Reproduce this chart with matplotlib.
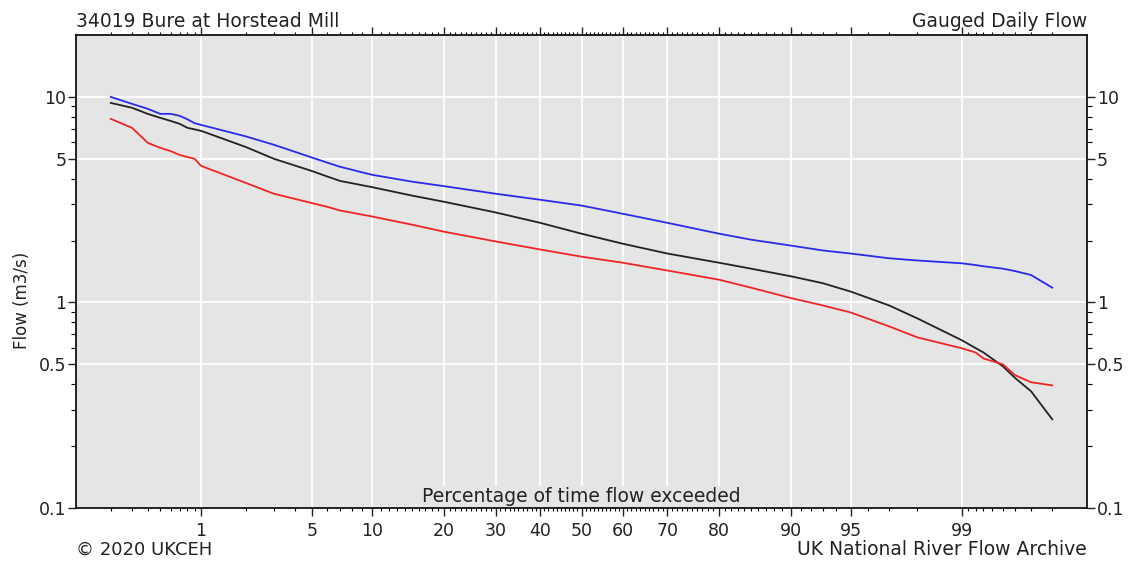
import numpy as np
import matplotlib
matplotlib.use('Agg')
from matplotlib import pyplot as plt
from statistics import NormalDist

# percentage of time flow exceeded
pct = [0.2, 0.3, 0.4, 0.5, 0.6, 0.7, 0.8, 0.9, 1, 2, 3, 5, 6, 7, 10, 15, 20, 30, 40, 50,
       60, 70, 80, 85, 90, 93, 95, 97, 98, 99, 99.2, 99.3, 99.5, 99.6, 99.7, 99.8]

# flows (m3/s)
flow_blue = [10.0, 9.25, 8.75, 8.27, 8.27, 8.09, 7.78, 7.45, 7.31, 6.43, 5.85, 5.06, 4.79, 4.57,
             4.18, 3.87, 3.68, 3.38, 3.16, 2.96, 2.70, 2.44, 2.16, 2.02, 1.89, 1.79, 1.73, 1.64,
             1.60, 1.55, 1.52, 1.50, 1.46, 1.42, 1.36, 1.18]
flow_black = [9.35, 8.85, 8.27, 7.91, 7.64, 7.40, 7.07, 6.95, 6.84, 5.71, 5.0, 4.35, 4.10, 3.90,
              3.64, 3.31, 3.09, 2.74, 2.44, 2.16, 1.93, 1.73, 1.56, 1.46, 1.34, 1.24, 1.13, 0.967,
              0.836, 0.654, 0.60, 0.571, 0.489, 0.428, 0.370, 0.270]
flow_red = [7.82, 7.07, 5.98, 5.65, 5.45, 5.22, 5.10, 5.00, 4.62, 3.82, 3.38, 3.04, 2.92, 2.80,
            2.62, 2.39, 2.21, 1.98, 1.81, 1.67, 1.56, 1.43, 1.29, 1.18, 1.05, 0.967, 0.894, 0.765,
            0.676, 0.598, 0.571, 0.534, 0.50, 0.442, 0.409, 0.395]

xmajor = [1, 5, 10, 20, 30, 40, 50, 60, 70, 80, 90, 95, 99]
xminor = ([0.2, 0.3, 0.4, 0.5, 0.6, 0.7, 0.8, 0.9, 2, 3, 4, 6, 7, 8, 9]
          + [v for v in range(11, 90) if v % 10 != 0]
          + [91, 92, 93, 94, 96, 97, 98]
          + [99.1, 99.2, 99.3, 99.4, 99.5, 99.6, 99.7, 99.8])
ymajor = [0.1, 0.5, 1, 5, 10]
ylabels = ['0.1', '0.5', '1', '5', '10']
yminor = [0.2, 0.3, 0.4, 0.6, 0.7, 0.8, 0.9, 2, 3, 4, 6, 7, 8, 9]

nd = NormalDist()

def fwd(p):
    p = np.clip(np.asarray(p, dtype=float), 1e-4, 100 - 1e-4)
    return np.vectorize(lambda v: nd.inv_cdf(v / 100.0), otypes=[float])(p)

def inv(z):
    z = np.asarray(z, dtype=float)
    return np.vectorize(lambda v: nd.cdf(v) * 100.0, otypes=[float])(z)

bg = '#e5e5e5'
fig = plt.figure(figsize=(11.35, 5.63), dpi=100)
ax = fig.add_axes([0.067, 0.0977, 0.8907, 0.8401])
ax.set_facecolor(bg)
ax.set_xscale('function', functions=(fwd, inv))
ax.set_yscale('log')
ax.set_xlim(0.1, 99.9)
ax.set_ylim(0.1, 20)

ax.plot(pct, flow_blue, color='#2a2ae8', lw=1.3)
ax.plot(pct, flow_black, color='#222222', lw=1.3)
ax.plot(pct, flow_red, color='#f02424', lw=1.3)

ax.set_xticks(xmajor)
ax.set_xticklabels([str(v) for v in xmajor])
ax.set_xticks(xminor, minor=True)
ax.set_yticks(ymajor)
ax.set_yticklabels(ylabels)
ax.set_yticks(yminor, minor=True)
ax.yaxis.set_minor_formatter(matplotlib.ticker.NullFormatter())
ax.xaxis.set_minor_formatter(matplotlib.ticker.NullFormatter())

ax.tick_params(axis='both', which='major', direction='out', length=6, width=1,
               labelsize=12.5, colors='#222222')
ax.tick_params(axis='y', which='minor', direction='out', length=3.5, width=0.8)
ax.tick_params(axis='x', which='minor', direction='out', length=2, width=0.8)
ax.tick_params(axis='x', which='both', top=True, labeltop=False, pad=4)
ax.tick_params(axis='y', which='both', right=True, labelright=True, pad=1)

ax.set_axisbelow(True)
ax.grid(True, which='major', color='white', lw=1.3)
for s in ax.spines.values():
    s.set_color('#111111')
    s.set_linewidth(1.3)

ax.text(0.5, 0.004, 'Percentage of time flow exceeded', transform=ax.transAxes,
        ha='center', va='bottom', fontsize=13.5, color='#222222',
        bbox=dict(facecolor=bg, edgecolor='none', pad=0.5))

fig.text(0.067, 0.952, '34019 Bure at Horstead Mill', ha='left', va='baseline',
         fontsize=13.5, color='#222222')
fig.text(0.9577, 0.952, 'Gauged Daily Flow', ha='right', va='baseline',
         fontsize=13.5, color='#222222')
fig.text(0.067, 0.014, '\u00a9 2020 UKCEH', ha='left', va='baseline',
         fontsize=13, color='#222222')
fig.text(0.9577, 0.014, 'UK National River Flow Archive', ha='right', va='baseline',
         fontsize=13.5, color='#222222')
fig.text(0.019, 0.467, 'Flow (m3/s)', rotation=90, ha='center', va='center',
         fontsize=12, color='#222222')

fig.savefig('out.png', dpi=100)
